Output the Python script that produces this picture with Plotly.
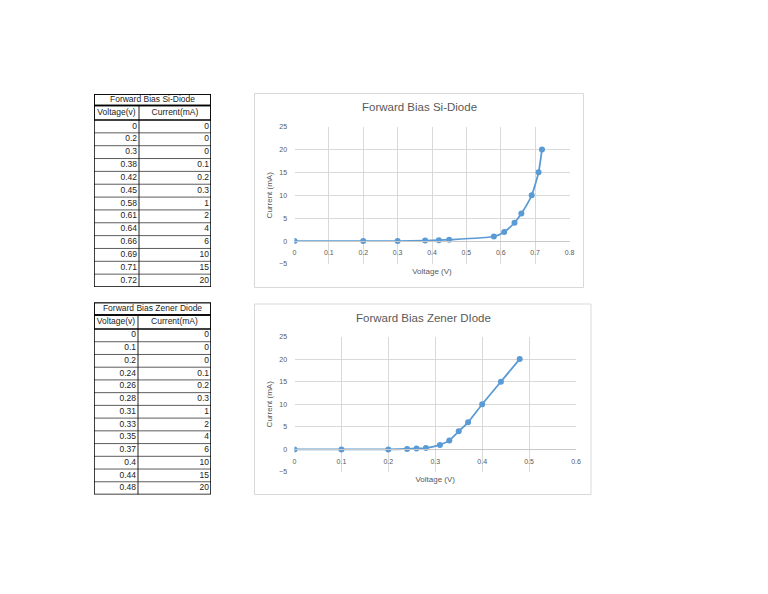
import plotly.graph_objects as go

# ---- data ----
si_voltage = [0, 0.2, 0.3, 0.38, 0.42, 0.45, 0.58, 0.61, 0.64, 0.66, 0.69, 0.71, 0.72]
si_current = [0, 0, 0, 0.1, 0.2, 0.3, 1, 2, 4, 6, 10, 15, 20]
zener_voltage = [0, 0.1, 0.2, 0.24, 0.26, 0.28, 0.31, 0.33, 0.35, 0.37, 0.4, 0.44, 0.48]
zener_current = [0, 0, 0, 0.1, 0.2, 0.3, 1, 2, 4, 6, 10, 15, 20]
table_headers = ["Voltage(v)", "Current(mA)"]
si_title = "Forward Bias Si-Diode"
zener_title = "Forward Bias Zener Diode"
si_chart_title = "Forward Bias Si-Diode"
zener_chart_title = "Forward Bias Zener DIode"
x_title = "Voltage (V)"
y_title = "Current (mA)"

W, H = 768, 594
FONT = "Liberation Sans"
BLUE = "#5b9bd5"
GRID = "#d9d9d9"
TXT = "#595959"
TBL_TXT = "#222222"


def px_x(p):
    return p / W


def px_y(p):
    return 1 - p / H


fig = go.Figure()
shapes = []
annotations = []
layout_axes = {}

# ---- tables (drawn on their own hidden axes) ----
tables = [
    dict(volt=si_voltage, cur=si_current, title=si_title, left=94, right=211, div=139,
         top=94, title_bot=105.5, hdr_bot=120, bottom=287, ax=5),
    dict(volt=zener_voltage, cur=zener_current, title=zener_title, left=94, right=211, div=138,
         top=302.5, title_bot=315, hdr_bot=329, bottom=494.5, ax=6),
]

for tb in tables:
    n = tb["ax"]
    xa, ya = f"x{n}", f"y{n}"
    width = tb["right"] - tb["left"]
    split = tb["div"] - tb["left"]
    total = tb["bottom"] - tb["top"]
    t_b = tb["title_bot"] - tb["top"]
    h_b = tb["hdr_bot"] - tb["top"]
    nrows = len(tb["volt"])
    rh = (total - h_b) / nrows
    bounds = [h_b + i * rh for i in range(nrows + 1)]
    centers = [h_b + (i + 0.5) * rh for i in range(nrows)]

    fig.add_trace(go.Scatter(x=[split - 2] * nrows, y=centers, text=[str(v) for v in tb["volt"]],
                             mode="text", textposition="middle left", xaxis=xa, yaxis=ya,
                             textfont=dict(family=FONT, size=8.5, color=TBL_TXT),
                             hoverinfo="skip", showlegend=False, cliponaxis=False))
    fig.add_trace(go.Scatter(x=[width - 2] * nrows, y=centers, text=[str(c) for c in tb["cur"]],
                             mode="text", textposition="middle left", xaxis=xa, yaxis=ya,
                             textfont=dict(family=FONT, size=8.5, color=TBL_TXT),
                             hoverinfo="skip", showlegend=False, cliponaxis=False))
    fig.add_trace(go.Scatter(x=[split / 2, (split + width) / 2, width / 2],
                             y=[(t_b + h_b) / 2] * 2 + [t_b / 2],
                             text=table_headers + [tb["title"]],
                             mode="text", textposition="middle center", xaxis=xa, yaxis=ya,
                             textfont=dict(family=FONT, size=8.5, color=TBL_TXT),
                             hoverinfo="skip", showlegend=False, cliponaxis=False))

    layout_axes[f"xaxis{n}"] = dict(domain=[px_x(tb["left"]), px_x(tb["right"])], anchor=ya,
                                    range=[0, width], showgrid=False, zeroline=False,
                                    showticklabels=False, ticks="", showline=False,
                                    fixedrange=True, automargin=False)
    layout_axes[f"yaxis{n}"] = dict(domain=[px_y(tb["bottom"]), px_y(tb["top"])], anchor=xa,
                                    range=[total, 0], showgrid=False, zeroline=False,
                                    showticklabels=False, ticks="", showline=False,
                                    fixedrange=True, automargin=False)
    for b in bounds[1:-1]:
        shapes.append(dict(type="line", xref=xa, yref=ya, x0=0, x1=width, y0=b, y1=b,
                           line=dict(color="#333333", width=0.8)))
    shapes.append(dict(type="line", xref=xa, yref=ya, x0=split, x1=split, y0=t_b, y1=total,
                       line=dict(color="#222222", width=1)))
    for (y0, y1) in [(0, t_b), (t_b, h_b), (0, total)]:
        shapes.append(dict(type="rect", xref=xa, yref=ya, x0=0, x1=width, y0=y0, y1=y1,
                           line=dict(color="black", width=1.5)))

# ---- chart boxes ----
for (l, t, r, b) in [(254.5, 93.5, 583.5, 287.5), (254.5, 304, 591, 494.5)]:
    shapes.append(dict(type="rect", xref="paper", yref="paper",
                       x0=px_x(l), x1=px_x(r), y0=px_y(b), y1=px_y(t),
                       line=dict(color=GRID, width=1), fillcolor="rgba(0,0,0,0)", layer="below"))

# ---- charts ----
charts = [
    dict(v=si_voltage, c=si_current, xr=[0, 0.8], dom_x=(294.5, 569.5), dom_y=(126.5, 264),
         title=si_chart_title, ty=107, tx=419, n=1),
    dict(v=zener_voltage, c=zener_current, xr=[0, 0.6], dom_x=(294.5, 576), dom_y=(336.5, 472),
         title=zener_chart_title, ty=318, tx=423, n=2),
]

for ch in charts:
    n = ch["n"]
    xa = "x" if n == 1 else "x3"
    ya = "y" if n == 1 else "y2"
    xa_over = "x2" if n == 1 else "x4"
    xkey = "xaxis" if n == 1 else "xaxis3"
    ykey = "yaxis" if n == 1 else "yaxis2"
    xokey = "xaxis2" if n == 1 else "xaxis4"
    top, bot = ch["dom_y"]
    yrange = [-5, 25]
    zero_pos = px_y(bot) + (px_y(top) - px_y(bot)) * (0 - yrange[0]) / (yrange[1] - yrange[0])

    fig.add_trace(go.Scatter(x=ch["v"], y=ch["c"], xaxis=xa, yaxis=ya, mode="lines+markers",
                             line=dict(color=BLUE, width=1.8, shape="spline", smoothing=0.5),
                             marker=dict(color=BLUE, size=6), showlegend=False))
    fig.add_trace(go.Scatter(x=ch["xr"], y=[0, 0], xaxis=xa_over, yaxis=ya, mode="markers",
                             marker=dict(opacity=0), hoverinfo="skip", showlegend=False))

    layout_axes[xkey] = dict(domain=[px_x(ch["dom_x"][0]), px_x(ch["dom_x"][1])], anchor=ya,
                             range=ch["xr"], dtick=0.1, showgrid=True, gridcolor=GRID, gridwidth=1,
                             showticklabels=False, ticks="", showline=False, zeroline=False,
                             automargin=False,
                             title=dict(text=x_title, standoff=4,
                                        font=dict(family=FONT, size=8, color=TXT)))
    layout_axes[xokey] = dict(overlaying=xa, anchor="free", position=zero_pos,
                              domain=[px_x(ch["dom_x"][0]), px_x(ch["dom_x"][1])],
                              range=ch["xr"], dtick=0.1, showgrid=False, zeroline=False,
                              showline=True, linecolor="#c8c8c8", linewidth=1,
                              ticks="outside", ticklen=5, tickcolor="rgba(0,0,0,0)",
                              automargin=False,
                              tickfont=dict(family=FONT, size=7, color=TXT))
    layout_axes[ykey] = dict(domain=[px_y(bot), px_y(top)], anchor=xa, range=yrange, dtick=5,
                             showgrid=True, gridcolor=GRID, gridwidth=1, zeroline=False,
                             showline=False, ticks="outside", ticklen=5, tickcolor="rgba(0,0,0,0)",
                             automargin=False,
                             tickfont=dict(family=FONT, size=7, color=TXT),
                             title=dict(text=y_title, standoff=5,
                                        font=dict(family=FONT, size=8, color=TXT)))
    annotations.append(dict(xref="paper", yref="paper", x=px_x(ch["tx"]), y=px_y(ch["ty"]),
                            text=ch["title"], showarrow=False, xanchor="center", yanchor="middle",
                            font=dict(family=FONT, size=11.5, color=TXT)))

fig.update_layout(width=W, height=H, autosize=False,
                  margin=dict(l=0, r=0, t=0, b=0, pad=0, autoexpand=False),
                  paper_bgcolor="white", plot_bgcolor="white",
                  shapes=shapes, annotations=annotations, showlegend=False,
                  **layout_axes)

fig.write_html("out.html", config={"displayModeBar": False, "responsive": False},
               post_script="document.body.style.margin='0';document.body.style.overflow='hidden';")
